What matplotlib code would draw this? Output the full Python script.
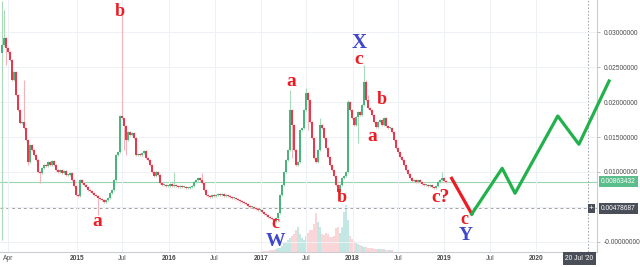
import numpy as np
import pandas as pd
import matplotlib
matplotlib.use("Agg")
import matplotlib.pyplot as plt
import matplotlib.dates as mdates
import matplotlib.transforms as mtransforms

plt.rcParams["font.family"] = ["Liberation Sans", "DejaVu Sans"]

# weekly-ish closes, price x 1e-4
closes_e4 = [
    281.4, 291.4, 277.1, 271.4, 260.0, 231.4, 242.9, 210.0, 188.6, 170.0,
    171.4, 162.9, 145.7, 114.3, 138.6, 131.4, 124.3, 117.1, 100.0, 98.6,
    105.7, 110.0, 108.6, 114.3, 110.0, 115.7, 110.0, 102.9, 100.0, 102.9,
    98.6, 101.4, 95.7, 95.7, 98.6, 88.6, 80.0, 67.1, 65.7, 88.6,
    84.3, 81.4, 78.6, 74.3, 72.9, 70.0, 67.1, 65.7, 62.9, 61.4,
    60.0, 57.1, 60.0, 62.9, 70.0, 74.3, 88.6, 124.3, 128.6, 180.0,
    177.1, 165.7, 145.7, 157.1, 152.9, 155.7, 148.6, 124.3, 125.7, 124.3,
    127.1, 130.0, 120.0, 117.1, 110.0, 100.0, 94.3, 100.0, 95.7, 84.3,
    81.4, 81.4, 80.0, 80.0, 82.9, 80.0, 81.4, 80.0, 78.6, 80.0,
    78.6, 78.6, 77.1, 77.1, 78.6, 80.0, 85.7, 88.6, 91.4, 88.6,
    84.3, 74.3, 67.1, 65.7, 64.3, 67.1, 65.7, 67.1, 68.6, 67.1,
    68.6, 65.7, 67.1, 65.7, 64.3, 62.9, 62.9, 61.4, 60.0, 58.6,
    57.1, 55.7, 54.3, 51.4, 50.0, 50.0, 48.6, 47.1, 45.7, 45.7,
    42.9, 40.0, 38.6, 35.7, 34.3, 32.9, 30.0, 34.3, 41.4, 67.1,
    81.4, 100.0, 117.1, 131.4, 188.6, 167.1, 131.4, 110.0, 114.3, 160.0,
    162.9, 188.6, 212.9, 202.9, 171.4, 148.6, 120.0, 114.3, 131.4, 167.1,
    162.9, 148.6, 134.3, 121.4, 110.0, 102.9, 94.3, 81.4, 71.4, 81.4,
    91.4, 94.3, 100.0, 200.0, 188.6, 177.1, 167.1, 178.6, 185.7, 181.4,
    195.7, 228.6, 202.9, 191.4, 188.6, 181.4, 171.4, 164.3, 171.4, 174.3,
    167.1, 177.1, 165.7, 162.9, 162.9, 157.1, 145.7, 134.3, 128.6, 121.4,
    117.1, 110.0, 102.9, 97.1, 91.4, 87.1, 88.6, 85.7, 88.6, 85.7,
    82.9, 81.4, 81.4, 80.0, 81.4, 78.6, 77.1, 80.0, 85.7, 88.6,
    91.4, 87.1, 86.3,
]
first_open_e4 = 270.0

# notable wicks (candle index -> price x 1e-4)
wick_hi = {0: 345, 1: 331, 11: 231, 60: 327, 61: 174, 86: 100, 100: 99,
           144: 217, 152: 220, 159: 177, 173: 203, 181: 253, 182: 231,
           183: 210, 220: 100}
wick_lo = {0: 3, 2: 253, 13: 110, 19: 84, 48: 39, 61: 131, 62: 124,
           145: 120, 153: 160, 169: 60, 178: 141}

# volume from candle 130 on (arbitrary units)
vol_start = 130
volume = [1, 1, 1, 1, 2, 2, 2, 3, 4, 4,
          6, 9, 10, 12, 14, 16, 18, 22, 25, 18,
          14, 12, 16, 19, 22, 22, 28, 39, 30, 25,
          18, 17, 19, 18, 15, 15, 16, 24, 25, 19,
          25, 40, 47, 32, 16, 13, 11, 9, 8, 7,
          6, 5, 5, 4, 4, 4, 3, 3, 3, 3,
          3, 3, 2, 2, 2, 2]

last_price = 0.00863432
marked_price = 0.00478687

# hand drawn projection
red_dates = ["2019-01-30", "2019-04-20"]
red_vals = [0.0091, 0.0040]
green_dates = ["2019-04-20", "2019-08-19", "2019-10-09", "2020-03-27", "2020-06-19", "2020-10-17"]
green_vals = [0.0040, 0.01053, 0.00696, 0.0180, 0.01396, 0.0230]

# wave labels: text, date, value, colour, size
labels = [
    ("b", "2015-06-21", 0.0329, "red", 13),
    ("a", "2015-03-22", 0.0029, "red", 14),
    ("a", "2017-05-01", 0.0230, "red", 14),
    ("c", "2017-02-27", 0.0026, "red", 13),
    ("W", "2017-02-27", 0.0001, "blue", 14),
    ("X", "2018-01-27", 0.0285, "blue", 15),
    ("c", "2018-01-27", 0.0261, "red", 14),
    ("b", "2017-11-20", 0.0063, "red", 13),
    ("b", "2018-04-28", 0.0203, "red", 13),
    ("a", "2018-03-19", 0.0151, "red", 14),
    ("c?", "2018-12-15", 0.0063, "red", 14),
    ("c", "2019-03-20", 0.0032, "red", 13),
    ("Y", "2019-03-28", 0.0009, "blue", 14),
]

xtick_dates = ["2014-04-01", "2015-01-01", "2015-07-01", "2016-01-01", "2016-07-01", "2017-01-01",
               "2017-07-01", "2018-01-01", "2018-07-01", "2019-01-01", "2019-07-01", "2020-01-01"]
xtick_labels = ["Apr", "2015", "Jul", "2016", "Jul", "2017", "Jul", "2018", "Jul", "2019", "Jul", "2020"]
ytick_vals = [0.0, 0.01, 0.015, 0.02, 0.025, 0.03]
ytick_labels = ["-0.00000000", "0.01000000", "0.01500000", "0.02000000", "0.02500000", "0.03000000"]

# colours
up_col, dn_col = "#4cb27e", "#e8384b"
up_wick, dn_wick = "#a9d9b9", "#f2b3ba"
paint_red, paint_green, paint_blue = "#ed1c24", "#22b14c", "#3f48cc"

closes = np.array(closes_e4) * 1e-4
opens = np.concatenate([[first_open_e4 * 1e-4], closes[:-1]])
dates = pd.date_range("2014-03-09", "2019-01-08", periods=len(closes))
x = mdates.date2num(dates)
up = closes >= opens

body_lo = np.minimum(opens, closes)
body_h = np.maximum(np.abs(closes - opens), 0.00013)
hi = np.maximum(opens, closes) + 0.0002
lo = body_lo - 0.0002
for i, v in wick_hi.items():
    hi[i] = v * 1e-4
for i, v in wick_lo.items():
    lo[i] = v * 1e-4

fig = plt.figure(figsize=(6.4, 2.67), dpi=100)
ax = fig.add_axes([0, 1 - 252 / 267, 597 / 640, 252 / 267])
ax2 = ax.twinx()
ax.set_zorder(ax2.get_zorder() + 1)
ax.patch.set_visible(False)

# volume
vi = np.arange(vol_start, vol_start + len(volume))
ax2.bar(x[vi], volume, width=6, color=np.where(up[vi], "#c3e7e2", "#fbd6d9"), linewidth=0)
ax2.set_ylim(0, 252)
ax2.axis("off")

# grid
ax.grid(True, color="#edf1f5", lw=0.7, zorder=0)
ax.axhline(0.005, color="#edf1f5", lw=0.7, zorder=0)

# candles
ax.vlines(x, lo, hi, colors=np.where(up, up_wick, dn_wick), lw=0.8, zorder=2)
ax.bar(x, body_h, bottom=body_lo, width=5.5, color=np.where(up, up_col, dn_col), linewidth=0, zorder=3)

ax.axhline(last_price, color="#98d6ae", lw=0.8, zorder=1)
ax.axhline(marked_price, color="#a0a4aa", lw=0.7, ls=(0, (3, 3)), zorder=1)
ax.axvline(mdates.date2num(pd.Timestamp("2020-07-25")), color="#a8adb3", lw=0.8, ls=(0, (1.5, 1.5)), zorder=1)

# projection
ax.plot(pd.to_datetime(red_dates), red_vals, color=paint_red, lw=2.3, clip_on=False, zorder=5)
ax.plot(pd.to_datetime(green_dates), green_vals, color=paint_green, lw=2.3, clip_on=False, zorder=5)

cols = {"red": paint_red, "blue": paint_blue}
for txt, d, v, c, s in labels:
    ax.text(pd.Timestamp(d), v, txt, color=cols[c], fontsize=s, fontweight="bold",
            family="Liberation Serif", ha="center", va="center", zorder=6)

ax.set_xlim(pd.Timestamp("2014-03-01"), pd.Timestamp("2020-08-30"))
ax.set_ylim(-10 / 7000, 242 / 7000)

ax.set_xticks(pd.to_datetime(xtick_dates), labels=xtick_labels)
for lab in ax.get_xticklabels():
    if lab.get_text().isdigit():
        lab.set_fontweight("bold")
ax.tick_params(axis="x", length=0, pad=2.5, labelsize=4.8, labelcolor="#4a4a4a")

ax.yaxis.tick_right()
ax.set_yticks(ytick_vals, labels=ytick_labels)
ax.tick_params(axis="y", length=2.5, width=0.6, color="#b0b4ba", pad=2, labelsize=4.8, labelcolor="#4a4a4a")

for s in ["top", "left"]:
    ax.spines[s].set_visible(False)
for s in ["right", "bottom"]:
    ax.spines[s].set_color("#c9ccd1")
    ax.spines[s].set_linewidth(0.8)

# price boxes on the scale
trans = mtransforms.blended_transform_factory(ax.transAxes, ax.transData)
ax.text(1.0 + 4 / 597, last_price, "0.00863432", transform=trans, ha="left", va="center",
        fontsize=4.8, color="white", clip_on=False, zorder=7,
        bbox=dict(boxstyle="square,pad=0.35", fc="#5bbd8b", ec="none"))
ax.text(1.0 + 4 / 597, marked_price, "0.00478687", transform=trans, ha="left", va="center",
        fontsize=4.8, color="white", clip_on=False, zorder=7,
        bbox=dict(boxstyle="square,pad=0.35", fc="#4a4e59", ec="none"))
ax.text(1.0 - 5.5 / 597, marked_price, "+", transform=trans, ha="center", va="center",
        fontsize=6, color="white", clip_on=False, zorder=7,
        bbox=dict(boxstyle="square,pad=0.15", fc="#4a4e59", ec="none"))
ax.text(579.5 / 597, -6.5 / 252, "20 Jul '20", transform=ax.transAxes, ha="center", va="center",
        fontsize=4.8, color="white", clip_on=False, zorder=7,
        bbox=dict(boxstyle="square,pad=0.4", fc="#4a4e59", ec="none"))

fig.savefig("out.png", dpi=100, facecolor="white")
